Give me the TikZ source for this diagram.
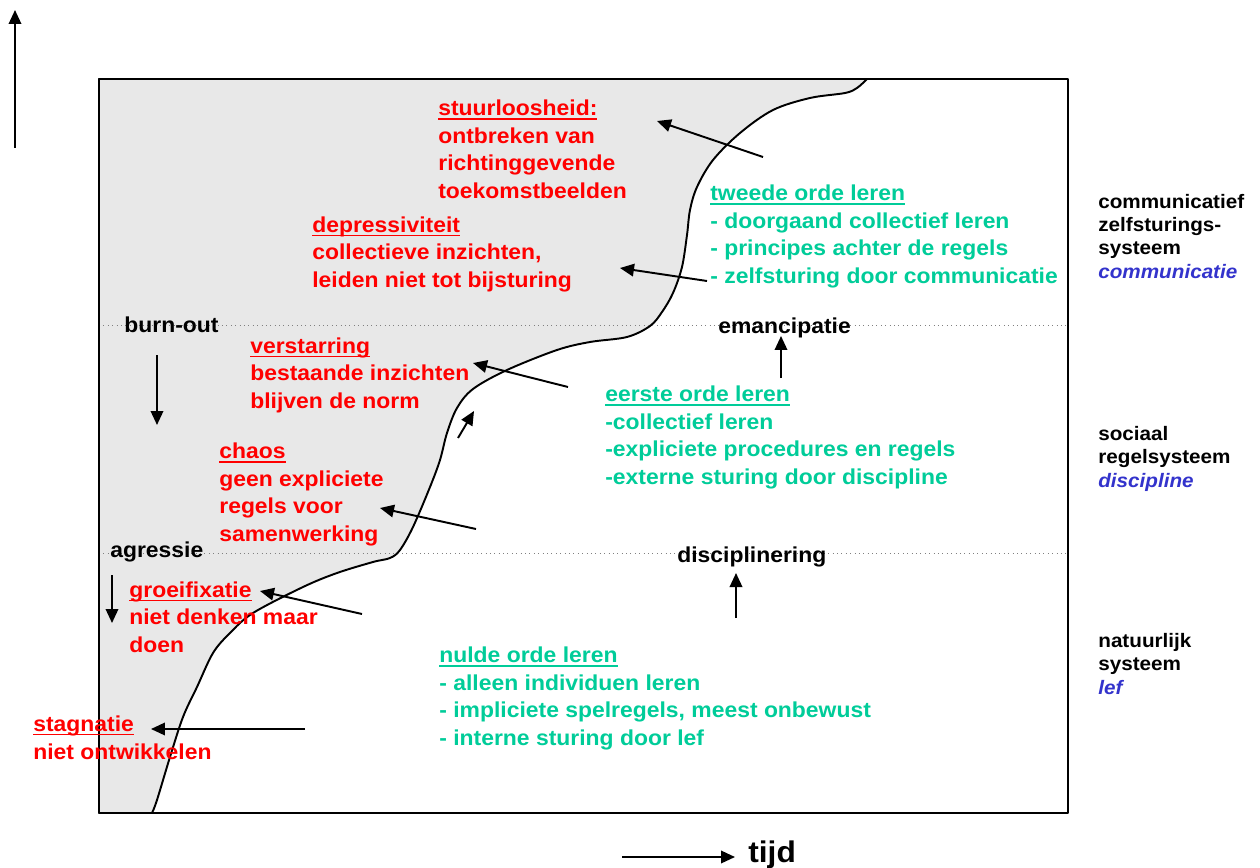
\documentclass[tikz,border=0pt]{standalone}
\usepackage{fontspec}
\setmainfont{Liberation Sans}[FakeStretch=1.06]
\usetikzlibrary{arrows.meta}
\definecolor{fillgray}{RGB}{232,232,232}
\definecolor{txtred}{RGB}{255,0,0}
\definecolor{txtgreen}{RGB}{0,204,153}
\definecolor{txtblue}{RGB}{51,51,204}
\newcommand{\myul}[1]{\leavevmode\setbox0\hbox{#1}\rlap{\rule[-2.2pt]{\wd0}{0.8pt}}\box0}
\tikzset{
  basetxt/.style={anchor=base west, inner sep=0pt, align=left, font=\fontsize{12.3}{15.6}\selectfont\bfseries},
  redtxt/.style={basetxt, text=txtred},
  greentxt/.style={basetxt, text=txtgreen},
  blacktxt/.style={basetxt, text=black},
  sidetxt/.style={anchor=base west, inner sep=0pt, align=left, text=black, font=\fontsize{11.1}{13.1}\selectfont\bfseries},
  arr/.style={line width=1.1pt, -{Triangle[length=0.28cm,width=0.25cm]}},
  sepline/.style={gray, line width=0.5pt, dotted},
  edge/.style={line width=1.1pt, line join=round}
}
\begin{document}
\begin{tikzpicture}[x=0.02cm, y=-0.02cm]
\useasboundingbox (0,0) rectangle (1260,868);
% shaded region left of the curve
\draw[edge, fill=fillgray] (99,79) -- plot[smooth, tension=0.55] coordinates {
 (867,79) (857,88) (845,93) (810,98) (773,110) (740,133) (713,160) (697,187)
 (690,210) (687,235) (682,267) (673,293) (662,312) (650,326) (627,337) (590,342)
 (557,350) (507,370) (473,389) (457,408) (447,433) (440,460) (430,487) (413,527)
 (400,550) (390,558) (373,562) (337,573) (303,587) (253,613) (230,633) (213,653)
 (197,687) (183,717) (170,757) (157,800) (152,813)} -- (99,813) -- cycle;
% separating dotted lines
\draw[sepline] (99,325) -- (1068,325);
\draw[sepline] (99,553) -- (1068,553);
% frame
\draw[edge] (99,79) rectangle (1068,813);

% texts (anchor = baseline of the last line)
\node[redtxt] (stuur) at (438,198) {\myul{stuurloosheid:}\\ontbreken van\\richtinggevende\\toekomstbeelden};
\node[redtxt] (depr) at (312,287) {\myul{depressiviteit}\\collectieve inzichten,\\leiden niet tot bijsturing};
\node[redtxt] (verst) at (250,408) {\myul{verstarring}\\bestaande inzichten\\blijven de norm};
\node[redtxt] (chaos) at (219,541) {\myul{chaos}\\geen expliciete\\regels voor\\samenwerking};
\node[redtxt] (groei) at (129,652) {\myul{groeifixatie}\\niet denken maar\\doen};
\node[redtxt] (stag) at (33,759) {\myul{stagnatie}\\niet ontwikkelen};

\node[greentxt] (tweede) at (710,283) {\myul{tweede orde leren}\\- doorgaand collectief leren\\- principes achter de regels\\- zelfsturing door communicatie};
\node[greentxt] (eerste) at (605,484) {\myul{eerste orde leren}\\-collectief leren\\-expliciete procedures en regels\\-externe sturing door discipline};
\node[greentxt] (nulde) at (439,745) {\myul{nulde orde leren}\\- alleen individuen leren\\- impliciete spelregels, meest onbewust\\- interne sturing door lef};

\node[blacktxt] (burn) at (124,332) {burn-out};
\node[blacktxt] (agr) at (110,557) {agressie};
\node[blacktxt] (eman) at (718,333) {emancipatie};
\node[blacktxt] (disc) at (677,562) {disciplinering};

\node[sidetxt] (comm) at (1098,278) {communicatief\\zelfsturings-\\systeem\\{\itshape\color{txtblue}communicatie}};
\node[sidetxt] (soc) at (1098,487) {sociaal\\regelsysteem\\{\itshape\color{txtblue}discipline}};
\node[sidetxt] (nat) at (1098,694) {natuurlijk\\systeem\\{\itshape\color{txtblue}lef}};

\node[anchor=base west, inner sep=0pt, font=\fontsize{17}{20}\selectfont\bfseries] (tijd) at (748,862) {tijd};

% arrow end points
\coordinate (upS) at (15,148);   \coordinate (upE) at (15,10);
\coordinate (stS) at (763,157);  \coordinate (stE) at (657,121);
\coordinate (deS) at (707,281);  \coordinate (deE) at (620,268);
\coordinate (buS) at (157,355);  \coordinate (buE) at (157,425);
\coordinate (veS) at (568,387);  \coordinate (veE) at (473,363);
\coordinate (smS) at (458,438);  \coordinate (smE) at (474,411);
\coordinate (emS) at (781,378);  \coordinate (emE) at (781,336);
\coordinate (chS) at (476,529);  \coordinate (chE) at (380,508);
\coordinate (agS) at (112,575);  \coordinate (agE) at (112,623);
\coordinate (grS) at (362,614);  \coordinate (grE) at (260,591);
\coordinate (diS) at (736,618);  \coordinate (diE) at (736,573);
\coordinate (sgS) at (305,729);  \coordinate (sgE) at (151,729);
\coordinate (tiS) at (622,857);  \coordinate (tiE) at (735,857);

\draw[arr] (upS) -- (upE);
\draw[arr] (stS) -- (stE);
\draw[arr] (deS) -- (deE);
\draw[arr] (buS) -- (buE);
\draw[arr] (veS) -- (veE);
\draw[arr] (smS) -- (smE);
\draw[arr] (emS) -- (emE);
\draw[arr] (chS) -- (chE);
\draw[arr] (agS) -- (agE);
\draw[arr] (grS) -- (grE);
\draw[arr] (diS) -- (diE);
\draw[arr] (sgS) -- (sgE);
\draw[arr] (tiS) -- (tiE);
\end{tikzpicture}
\end{document}
